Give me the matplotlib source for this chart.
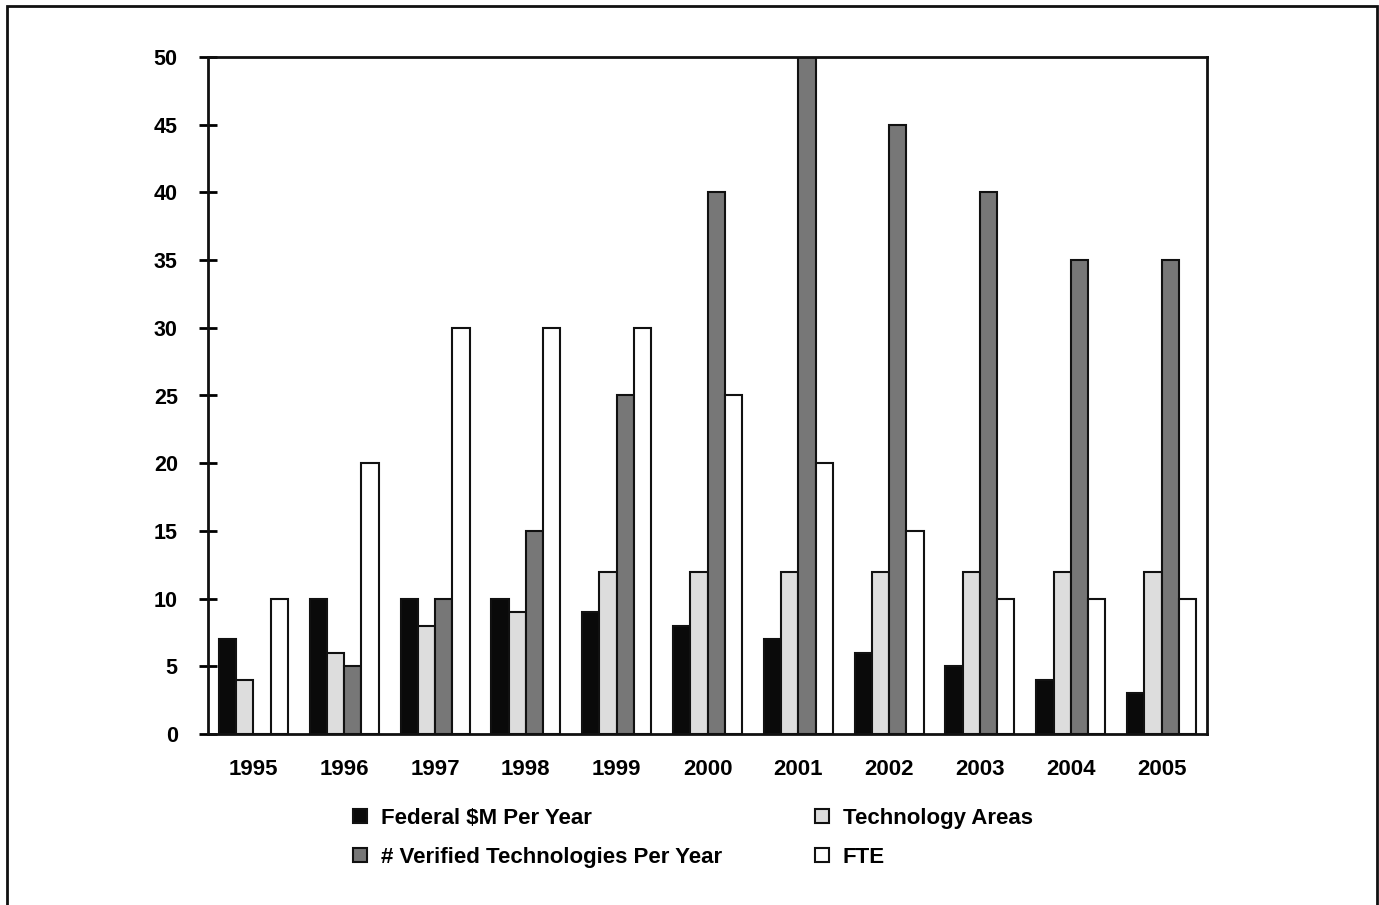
import numpy as np
import matplotlib.pyplot as plt
from matplotlib.patches import Rectangle

plt.rcParams['font.family'] = ['Liberation Sans', 'DejaVu Sans']
plt.rcParams['font.weight'] = 'bold'

years = ['1995', '1996', '1997', '1998', '1999', '2000', '2001', '2002', '2003', '2004', '2005']
federal = [7, 10, 10, 10, 9, 8, 7, 6, 5, 4, 3]
tech_areas = [4, 6, 8, 9, 12, 12, 12, 12, 12, 12, 12]
verified = [0, 5, 10, 15, 25, 40, 50, 45, 40, 35, 35]
fte = [10, 20, 30, 30, 30, 25, 20, 15, 10, 10, 10]

series = [
    ('Federal $M Per Year', federal, '#0a0a0a'),
    ('Technology Areas', tech_areas, '#dddddd'),
    ('# Verified Technologies Per Year', verified, '#777777'),
    ('FTE', fte, '#ffffff'),
]

fig = plt.figure(figsize=(13.79, 9.05), dpi=100)
ax = fig.add_axes([208 / 1379, 1 - 734 / 905, 999 / 1379, 677 / 905])

x = np.arange(len(years))
w = 0.19
bars = {}
for i, (name, vals, col) in enumerate(series):
    bars[name] = ax.bar(x + (i - 1.5) * w, vals, w, color=col, edgecolor='#111111',
                        linewidth=1.5, label=name)

ax.set_xlim(-0.5, len(years) - 0.5)
ax.set_ylim(0, 50)
ax.set_yticks(range(0, 51, 5))
ax.set_xticks(x)
ax.set_xticklabels(years)
ax.tick_params(axis='y', direction='inout', length=13.5, width=2, labelsize=15.5, pad=15)
ax.tick_params(axis='x', length=0, labelsize=16, pad=18)
for s in ax.spines.values():
    s.set_linewidth(2)
    s.set_color('#111111')

# legend: two separate columns, placed like the original
leg_kw = dict(loc='upper left', frameon=False, prop={'size': 16, 'weight': 'bold'},
              handlelength=0.62, handleheight=0.62, handletextpad=0.62,
              labelspacing=0.8, borderpad=0, borderaxespad=0)
col1 = ['Federal $M Per Year', '# Verified Technologies Per Year']
col2 = ['Technology Areas', 'FTE']
fig.legend([bars[n] for n in col1], col1, bbox_to_anchor=(353 / 1379, 1 - 808 / 905), **leg_kw)
fig.legend([bars[n] for n in col2], col2, bbox_to_anchor=(815 / 1379, 1 - 808 / 905), **leg_kw)

fig.patches.append(Rectangle((7 / 1379, -0.05), 1370 / 1379, 1.05 - 6 / 905,
                             transform=fig.transFigure, fill=False,
                             edgecolor='#111111', linewidth=2, clip_on=False))

fig.savefig('out.png', dpi=100)
